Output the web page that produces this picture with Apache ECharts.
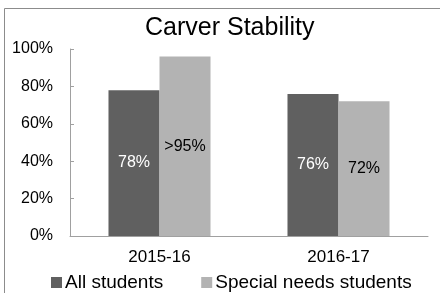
<!DOCTYPE html>
<html>
<head>
<meta charset="utf-8">
<script src="https://cdn.jsdelivr.net/npm/echarts@6/dist/echarts.min.js"></script>
<style>
html,body{margin:0;padding:0;background:#fff;}
#chart{width:440px;height:293px;}
</style>
</head>
<body>
<div id="chart"></div>
<script>
const titleText = 'Carver Stability';
const categories = ['2015-16', '2016-17'];
const seriesNames = ['All students', 'Special needs students'];
const allStudents = [78, 76];
const specialNeeds = [96, 72];
const barLabels1 = ['78%', '76%'];
const barLabels2 = ['>95%', '72%'];
const yTicks = [0, 20, 40, 60, 80, 100];

const FONT = '"Liberation Sans", Arial, sans-serif';
const chart = echarts.init(document.getElementById('chart'), null, {renderer: 'canvas'});
chart.setOption({
  animation: false,
  backgroundColor: '#ffffff',
  title: {
    text: titleText,
    left: 140,
    top: 11,
    textStyle: {fontFamily: FONT, fontSize: 25, fontWeight: 'normal', color: '#000'}
  },
  graphic: [{
    type: 'rect',
    shape: {x: 4.5, y: 8.5, width: 500, height: 400},
    style: {fill: 'none', stroke: '#8c8c8c', lineWidth: 1},
    silent: true, z: -1
  }],
  legend: {
    left: 46,
    top: 268,
    icon: 'rect',
    itemWidth: 11,
    itemHeight: 11,
    itemGap: 38,
    textStyle: {fontFamily: FONT, fontSize: 19, color: '#000', padding: [0, 0, 0, -2]},
    data: seriesNames
  },
  grid: {left: 70, right: 12, top: 49, bottom: 57},
  xAxis: {
    type: 'category',
    data: categories,
    axisLine: {lineStyle: {color: '#a0a0a0'}},
    axisTick: {show: false},
    axisLabel: {fontFamily: FONT, fontSize: 17, color: '#000', margin: 13}
  },
  yAxis: {
    type: 'value',
    min: yTicks[0],
    max: yTicks[yTicks.length - 1],
    interval: 20,
    axisLine: {show: true, lineStyle: {color: '#a0a0a0'}},
    axisTick: {show: true, inside: true, length: 4, lineStyle: {color: '#a0a0a0'}},
    splitLine: {show: false},
    axisLabel: {fontFamily: FONT, fontSize: 16, color: '#000', margin: 17, formatter: '{value}%'}
  },
  series: [
    {
      name: seriesNames[0],
      type: 'bar',
      data: allStudents,
      barGap: '0%',
      barCategoryGap: '43%',
      itemStyle: {color: '#606060'},
      label: {
        show: true, position: 'inside',
        fontFamily: FONT, fontSize: 16, color: '#fff',
        formatter: p => barLabels1[p.dataIndex]
      }
    },
    {
      name: seriesNames[1],
      type: 'bar',
      data: specialNeeds,
      itemStyle: {color: '#b3b3b3'},
      label: {
        show: true, position: 'inside',
        fontFamily: FONT, fontSize: 16, color: '#000',
        formatter: p => barLabels2[p.dataIndex]
      }
    }
  ]
});
</script>
</body>
</html>
